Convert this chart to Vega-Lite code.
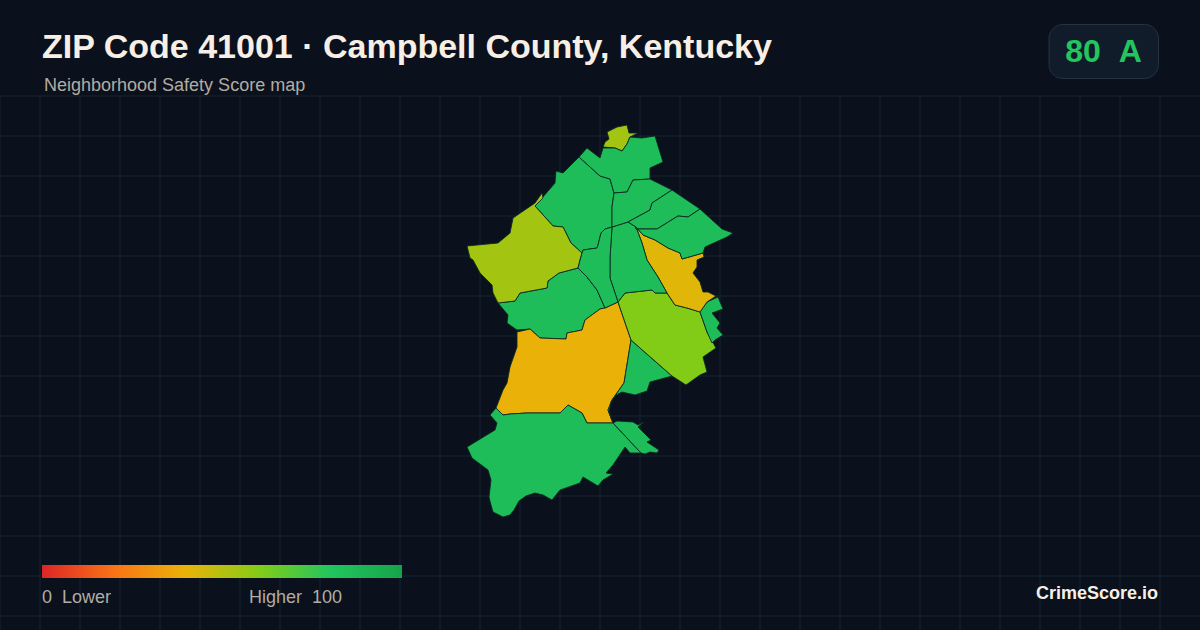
{
  "$schema": "https://vega.github.io/schema/vega-lite/v6.json",
  "width": 1200,
  "height": 630,
  "autosize": {"type": "none"},
  "padding": 0,
  "background": "#0a111c",
  "title": {
    "text": "ZIP Code 41001 · Campbell County, Kentucky",
    "anchor": "start",
    "frame": "group",
    "dx": 42,
    "dy": 69,
    "font": "Liberation Sans",
    "fontSize": 34,
    "fontWeight": "bold",
    "color": "#f7efe5"
  },
  "view": {"stroke": null},
  "projection": {"type": "identity", "reflectY": true, "scale": 1000, "translate": [85000, 39300]},
  "layer": [
    {
      "data": {"values": [{"type": "Feature", "properties": {"name": "grid"}, "geometry": {"type": "MultiLineString", "coordinates": [
        [[-85,39.204],[-85,38.67]],[[-84.96,39.204],[-84.96,38.67]],[[-84.92,39.204],[-84.92,38.67]],[[-84.88,39.204],[-84.88,38.67]],[[-84.84,39.204],[-84.84,38.67]],[[-84.8,39.204],[-84.8,38.67]],
        [[-84.76,39.204],[-84.76,38.67]],[[-84.72,39.204],[-84.72,38.67]],[[-84.68,39.204],[-84.68,38.67]],[[-84.64,39.204],[-84.64,38.67]],[[-84.6,39.204],[-84.6,38.67]],[[-84.56,39.204],[-84.56,38.67]],
        [[-84.52,39.204],[-84.52,38.67]],[[-84.48,39.204],[-84.48,38.67]],[[-84.44,39.204],[-84.44,38.67]],[[-84.4,39.204],[-84.4,38.67]],[[-84.36,39.204],[-84.36,38.67]],[[-84.32,39.204],[-84.32,38.67]],
        [[-84.28,39.204],[-84.28,38.67]],[[-84.24,39.204],[-84.24,38.67]],[[-84.2,39.204],[-84.2,38.67]],[[-84.16,39.204],[-84.16,38.67]],[[-84.12,39.204],[-84.12,38.67]],[[-84.08,39.204],[-84.08,38.67]],
        [[-84.04,39.204],[-84.04,38.67]],[[-84,39.204],[-84,38.67]],[[-83.96,39.204],[-83.96,38.67]],[[-83.92,39.204],[-83.92,38.67]],[[-83.88,39.204],[-83.88,38.67]],[[-83.84,39.204],[-83.84,38.67]],
        [[-85,39.204],[-83.8,39.204]],[[-85,39.164],[-83.8,39.164]],[[-85,39.124],[-83.8,39.124]],[[-85,39.084],[-83.8,39.084]],[[-85,39.044],[-83.8,39.044]],[[-85,39.004],[-83.8,39.004]],[[-85,38.964],[-83.8,38.964]],
        [[-85,38.924],[-83.8,38.924]],[[-85,38.884],[-83.8,38.884]],[[-85,38.844],[-83.8,38.844]],[[-85,38.804],[-83.8,38.804]],[[-85,38.764],[-83.8,38.764]],[[-85,38.724],[-83.8,38.724]],[[-85,38.684],[-83.8,38.684]]
      ]}}]},
      "mark": {"type": "geoshape", "filled": false, "stroke": "#1b2b3a", "strokeWidth": 1, "strokeOpacity": 0.75},
      "encoding": {}
    },
    {
      "data": {"values": [
        {"type": "Feature", "properties": {"name": "A", "score": 54}, "geometry": {"type": "Polygon", "coordinates": [[[-84.393,39.168],[-84.383,39.173],[-84.373,39.175],[-84.371,39.167],[-84.362,39.167],[-84.37,39.163],[-84.373,39.156],[-84.378,39.149],[-84.385,39.152],[-84.397,39.153],[-84.395,39.158],[-84.391,39.161],[-84.393,39.168]]]}},
        {"type": "Feature", "properties": {"name": "B", "score": 85}, "geometry": {"type": "Polygon", "coordinates": [[[-84.421,39.143],[-84.4,39.124],[-84.39,39.121],[-84.386,39.107],[-84.388,39.093],[-84.388,39.073],[-84.395,39.071],[-84.399,39.067],[-84.402,39.055],[-84.403,39.052],[-84.417,39.05],[-84.418,39.047],[-84.429,39.057],[-84.437,39.073],[-84.447,39.074],[-84.465,39.094],[-84.458,39.102],[-84.451,39.11],[-84.445,39.117],[-84.444,39.129],[-84.437,39.127],[-84.421,39.143]]]}},
        {"type": "Feature", "properties": {"name": "C", "score": 85}, "geometry": {"type": "Polygon", "coordinates": [[[-84.502,38.997],[-84.485,38.999],[-84.48,39.007],[-84.453,39.012],[-84.452,39.019],[-84.441,39.027],[-84.422,39.032],[-84.413,39.023],[-84.403,39.01],[-84.395,38.992],[-84.4,38.991],[-84.415,38.98],[-84.418,38.97],[-84.433,38.967],[-84.434,38.961],[-84.46,38.962],[-84.47,38.971],[-84.483,38.97],[-84.493,38.977],[-84.492,38.985],[-84.502,38.997]]]}},
        {"type": "Feature", "properties": {"name": "D", "score": 54}, "geometry": {"type": "Polygon", "coordinates": [[[-84.465,39.094],[-84.447,39.074],[-84.437,39.073],[-84.429,39.057],[-84.418,39.047],[-84.42,39.04],[-84.422,39.032],[-84.441,39.027],[-84.452,39.019],[-84.453,39.012],[-84.48,39.007],[-84.485,38.999],[-84.502,38.997],[-84.507,39.007],[-84.508,39.015],[-84.52,39.027],[-84.527,39.04],[-84.53,39.042],[-84.533,39.054],[-84.502,39.057],[-84.49,39.067],[-84.487,39.082],[-84.465,39.097],[-84.458,39.107],[-84.457,39.102],[-84.465,39.094]]]}},
        {"type": "Feature", "properties": {"name": "E", "score": 39.5}, "geometry": {"type": "Polygon", "coordinates": [[[-84.483,38.968],[-84.47,38.971],[-84.46,38.962],[-84.434,38.961],[-84.433,38.967],[-84.418,38.97],[-84.415,38.98],[-84.4,38.991],[-84.395,38.992],[-84.382,38.998],[-84.369,38.96],[-84.376,38.917],[-84.388,38.9],[-84.392,38.89],[-84.387,38.877],[-84.413,38.877],[-84.418,38.887],[-84.432,38.895],[-84.44,38.887],[-84.473,38.887],[-84.49,38.886],[-84.497,38.885],[-84.504,38.892],[-84.497,38.91],[-84.493,38.917],[-84.49,38.933],[-84.483,38.953],[-84.483,38.968]]]}},
        {"type": "Feature", "properties": {"name": "F", "score": 85}, "geometry": {"type": "Polygon", "coordinates": [[[-84.504,38.892],[-84.51,38.885],[-84.503,38.877],[-84.505,38.87],[-84.533,38.853],[-84.528,38.842],[-84.512,38.83],[-84.509,38.82],[-84.511,38.803],[-84.509,38.795],[-84.507,38.788],[-84.497,38.783],[-84.49,38.785],[-84.486,38.79],[-84.481,38.799],[-84.474,38.804],[-84.465,38.807],[-84.457,38.805],[-84.448,38.8],[-84.44,38.81],[-84.42,38.817],[-84.417,38.823],[-84.402,38.814],[-84.397,38.82],[-84.387,38.826],[-84.394,38.827],[-84.387,38.835],[-84.375,38.853],[-84.37,38.847],[-84.359,38.847],[-84.387,38.877],[-84.413,38.877],[-84.418,38.887],[-84.432,38.895],[-84.44,38.887],[-84.473,38.887],[-84.49,38.886],[-84.497,38.885],[-84.504,38.892]]]}},
        {"type": "Feature", "properties": {"name": "G", "score": 85}, "geometry": {"type": "Polygon", "coordinates": [[[-84.387,38.877],[-84.383,38.879],[-84.367,38.878],[-84.362,38.875],[-84.356,38.878],[-84.362,38.873],[-84.349,38.86],[-84.353,38.858],[-84.341,38.85],[-84.343,38.847],[-84.35,38.848],[-84.355,38.846],[-84.359,38.847],[-84.387,38.877]]]}},
        {"type": "Feature", "properties": {"name": "H", "score": 85}, "geometry": {"type": "Polygon", "coordinates": [[[-84.369,38.96],[-84.352,38.945],[-84.328,38.924],[-84.35,38.918],[-84.353,38.909],[-84.365,38.905],[-84.378,38.908],[-84.384,38.905],[-84.389,38.898],[-84.391,38.888],[-84.387,38.877],[-84.392,38.89],[-84.388,38.9],[-84.376,38.917],[-84.369,38.96]]]}},
        {"type": "Feature", "properties": {"name": "I", "score": 60.5}, "geometry": {"type": "Polygon", "coordinates": [[[-84.382,38.998],[-84.375,39.007],[-84.348,39.01],[-84.345,39.007],[-84.333,39.007],[-84.325,38.995],[-84.313,38.992],[-84.3,38.988],[-84.293,38.968],[-84.284,38.952],[-84.297,38.943],[-84.293,38.928],[-84.3,38.925],[-84.314,38.915],[-84.328,38.924],[-84.352,38.945],[-84.369,38.96],[-84.382,38.998]]]}},
        {"type": "Feature", "properties": {"name": "J", "score": 85}, "geometry": {"type": "Polygon", "coordinates": [[[-84.3,38.988],[-84.293,38.998],[-84.282,39.003],[-84.277,38.991],[-84.288,38.987],[-84.28,38.977],[-84.283,38.972],[-84.277,38.965],[-84.285,38.96],[-84.288,38.957],[-84.293,38.968],[-84.3,38.988]]]}},
        {"type": "Feature", "properties": {"name": "K", "score": 42}, "geometry": {"type": "Polygon", "coordinates": [[[-84.364,39.073],[-84.357,39.065],[-84.345,39.06],[-84.332,39.052],[-84.32,39.047],[-84.318,39.041],[-84.297,39.047],[-84.296,39.043],[-84.303,39.04],[-84.303,39.033],[-84.307,39.027],[-84.3,39.018],[-84.297,39.008],[-84.292,39.008],[-84.284,39.004],[-84.293,38.998],[-84.3,38.988],[-84.313,38.992],[-84.325,38.995],[-84.333,39.007],[-84.342,39.023],[-84.353,39.04],[-84.358,39.057],[-84.364,39.073]]]}},
        {"type": "Feature", "properties": {"name": "L", "score": 85}, "geometry": {"type": "Polygon", "coordinates": [[[-84.388,39.073],[-84.372,39.078],[-84.364,39.073],[-84.358,39.057],[-84.353,39.04],[-84.342,39.023],[-84.333,39.007],[-84.345,39.007],[-84.348,39.01],[-84.375,39.007],[-84.382,38.998],[-84.39,39.022],[-84.39,39.042],[-84.388,39.073]]]}},
        {"type": "Feature", "properties": {"name": "M", "score": 85}, "geometry": {"type": "Polygon", "coordinates": [[[-84.388,39.073],[-84.39,39.042],[-84.39,39.022],[-84.382,38.998],[-84.395,38.992],[-84.403,39.01],[-84.413,39.023],[-84.422,39.032],[-84.418,39.047],[-84.417,39.05],[-84.403,39.052],[-84.402,39.055],[-84.399,39.067],[-84.395,39.071],[-84.388,39.073]]]}},
        {"type": "Feature", "properties": {"name": "O", "score": 85}, "geometry": {"type": "Polygon", "coordinates": [[[-84.421,39.143],[-84.413,39.152],[-84.4,39.142],[-84.397,39.152],[-84.385,39.152],[-84.378,39.149],[-84.373,39.156],[-84.37,39.163],[-84.358,39.162],[-84.345,39.164],[-84.337,39.138],[-84.35,39.132],[-84.35,39.121],[-84.367,39.12],[-84.373,39.108],[-84.386,39.107],[-84.39,39.121],[-84.4,39.124],[-84.421,39.143]]]}},
        {"type": "Feature", "properties": {"name": "P", "score": 85}, "geometry": {"type": "Polygon", "coordinates": [[[-84.386,39.107],[-84.373,39.108],[-84.367,39.12],[-84.35,39.121],[-84.328,39.11],[-84.348,39.097],[-84.35,39.09],[-84.372,39.078],[-84.388,39.073],[-84.388,39.093],[-84.386,39.107]]]}},
        {"type": "Feature", "properties": {"name": "Q", "score": 85}, "geometry": {"type": "Polygon", "coordinates": [[[-84.372,39.078],[-84.35,39.09],[-84.348,39.097],[-84.328,39.11],[-84.3,39.091],[-84.312,39.083],[-84.322,39.084],[-84.343,39.071],[-84.364,39.071],[-84.364,39.073],[-84.372,39.078]]]}},
        {"type": "Feature", "properties": {"name": "R", "score": 85}, "geometry": {"type": "Polygon", "coordinates": [[[-84.364,39.071],[-84.343,39.071],[-84.322,39.084],[-84.312,39.083],[-84.3,39.091],[-84.278,39.071],[-84.267,39.067],[-84.273,39.063],[-84.295,39.053],[-84.297,39.047],[-84.318,39.041],[-84.32,39.047],[-84.332,39.052],[-84.345,39.06],[-84.357,39.065],[-84.364,39.073],[-84.364,39.071]]]}}
      ]},
      "mark": {"type": "geoshape", "stroke": "#0b2a24", "strokeWidth": 0.9},
      "encoding": {
        "color": {
          "field": "properties.score",
          "type": "quantitative",
          "scale": {"domain": [0, 20, 40, 60, 80, 100], "range": ["#dc2626", "#f97316", "#eab308", "#84cc16", "#22c55e", "#16a34a"], "interpolate": "rgb"},
          "legend": {
            "orient": "none",
            "legendX": 42,
            "legendY": 565,
            "direction": "horizontal",
            "title": null,
            "gradientLength": 360,
            "gradientThickness": 13,
            "gradientStrokeWidth": 0,
            "values": [0, 70.4],
            "labelExpr": "datum.value == 0 ? '0\u00a0\u00a0Lower' : 'Higher\u00a0\u00a0100'",
            "labelFont": "Liberation Sans",
            "labelFontSize": 18,
            "labelColor": "#b3aca1",
            "labelOffset": 11
          }
        }
      }
    },
    {
      "data": {"values": [{"label": "Neighborhood Safety Score map"}]},
      "mark": {"type": "text", "x": 44, "y": 91, "align": "left", "baseline": "alphabetic", "font": "Liberation Sans", "fontSize": 18, "fill": "#b3aca1"},
      "encoding": {"text": {"field": "label"}}
    },
    {
      "data": {"values": [{"card": "score"}]},
      "mark": {"type": "rect", "x": 1049, "x2": 1158.5, "y": 24.5, "y2": 78.5, "cornerRadius": 14, "fill": "#111c2a", "stroke": "#253241", "strokeWidth": 1},
      "encoding": {}
    },
    {
      "data": {"values": [{"label": "80\u00a0\u00a0A"}]},
      "mark": {"type": "text", "x": 1103.5, "y": 62, "align": "center", "baseline": "alphabetic", "font": "Liberation Sans", "fontSize": 32, "fontWeight": "bold", "fill": "#22c55e"},
      "encoding": {"text": {"field": "label"}}
    },
    {
      "data": {"values": [{"label": "CrimeScore.io"}]},
      "mark": {"type": "text", "x": 1158, "y": 594, "align": "right", "font": "Liberation Sans", "fontSize": 18, "fontWeight": "bold", "fill": "#f7efe5"},
      "encoding": {"text": {"field": "label"}}
    }
  ]
}
